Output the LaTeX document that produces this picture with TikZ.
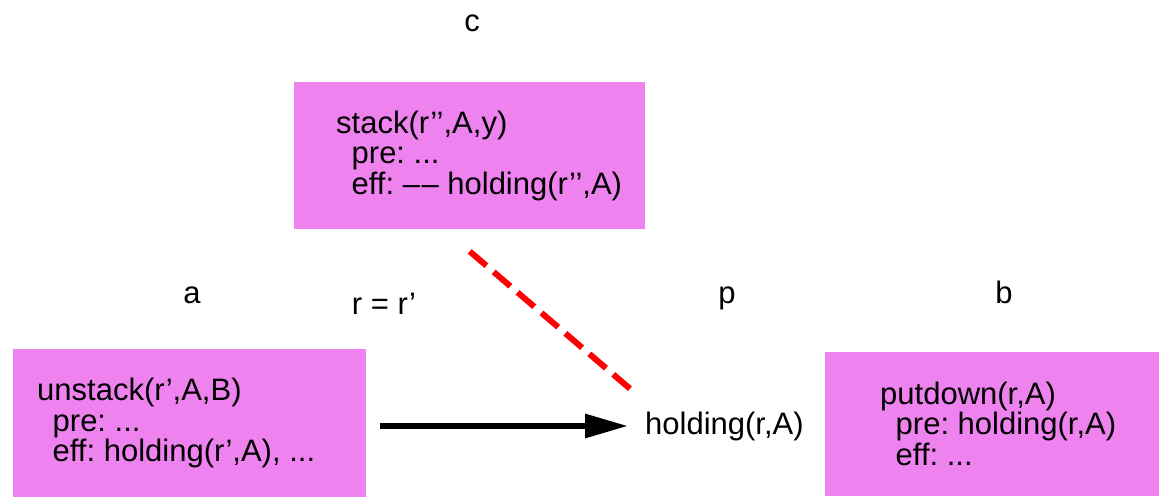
\documentclass[tikz,border=0pt]{standalone}
\usepackage{fontspec}
\setmainfont{Liberation Sans}
\usetikzlibrary{positioning,arrows.meta}
\definecolor{OpViolet}{RGB}{238,130,238}
\definecolor{LinkRed}{RGB}{255,0,0}
\tikzset{
  opbox/.style={fill=OpViolet,draw=none,inner sep=0pt,anchor=north west},
  optext/.style={align=left,inner sep=0pt,anchor=north west,
    font=\fontsize{31}{30.5}\selectfont\frenchspacing},
  tag/.style={inner sep=0pt,anchor=base,font=\fontsize{31}{31}\selectfont},
  causal/.style={draw=black,line width=6pt,-{Triangle[length=43pt,width=23pt]}},
  threat/.style={draw=LinkRed,line width=6pt,dash pattern=on 22pt off 9.5pt},
}

\begin{document}
\begin{tikzpicture}[x=1pt,y=-1pt]
\useasboundingbox (0,0) rectangle (1159,496);
% operator boxes
\node[opbox,minimum width=351pt,minimum height=147pt] (stackbox) at (294,82) {};
\node[opbox,minimum width=353pt,minimum height=148pt] (unstackbox) at (13,349) {};
\node[opbox,minimum width=334pt,minimum height=144pt] (putdownbox) at (825,352) {};
\node[optext] (stacktxt) at (336,110.5)
  {stack(r’’,A,y)\\\hspace*{0.5em}pre: ...\\\hspace*{0.5em}eff: {–}\kern1.5pt{–} holding(r’’,A)};
\node[optext] (unstacktxt) at (37,378)
  {unstack(r’,A,B)\\\hspace*{0.5em}pre: ...\\\hspace*{0.5em}eff: holding(r’,A), ...};
\node[optext] (putdowntxt) at (880,381.5)
  {putdown(r,A)\\\hspace*{0.5em}pre: holding(r,A)\\\hspace*{0.5em}eff: ...};
% labels
\node[tag] (lblc) at (472,31) {c};
\node[tag] (lbla) at (192,303) {a};
\node[tag] (lblp) at (727,303) {p};
\node[tag] (lblb) at (1004,303) {b};
\node[tag] (bind) at (384,314) {r = r’};
% goal
\node[tag,anchor=base west] (goal) at (645,434) {holding(r,A)};
\coordinate (clobber) at (635,393);
% links
\draw[causal,shorten <=14pt,shorten >=17pt] (unstackbox.east |- goal.west) -- (goal.west);
\draw[threat] ([yshift=-22pt]stackbox.south) -- (clobber);
\end{tikzpicture}
\end{document}
